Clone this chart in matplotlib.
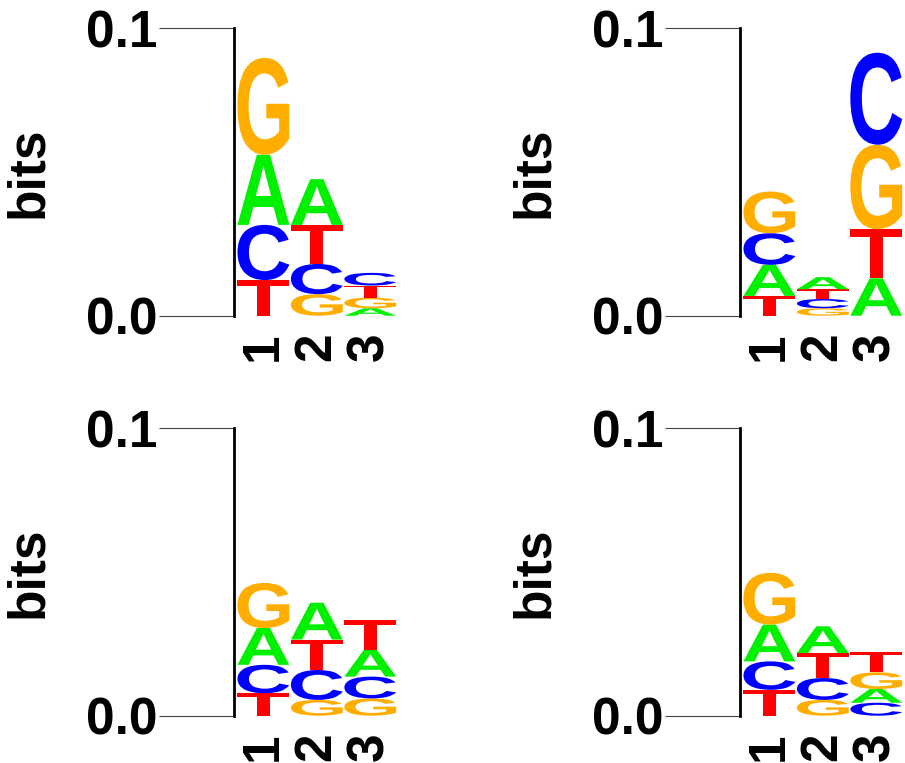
import matplotlib
matplotlib.use('Agg')
import matplotlib.pyplot as plt
from matplotlib.textpath import TextPath
from matplotlib.patches import PathPatch
from matplotlib.font_manager import FontProperties
from matplotlib.transforms import Affine2D

# information content (bits) per letter, positions 1..3
positions = [1, 2, 3]

p1_A = [0.0244, 0.0159, 0.0026]
p1_C = [0.0192, 0.0105, 0.0044]
p1_G = [0.0337, 0.0075, 0.0037]
p1_T = [0.0124, 0.0136, 0.0042]

p2_A = [0.0108, 0.0042, 0.0130]
p2_C = [0.0110, 0.0032, 0.0320]
p2_G = [0.0145, 0.0026, 0.0294]
p2_T = [0.0069, 0.0034, 0.0171]

p3_A = [0.0128, 0.0128, 0.0093]
p3_C = [0.0099, 0.0104, 0.0076]
p3_G = [0.0157, 0.0055, 0.0060]
p3_T = [0.0078, 0.0106, 0.0105]

p4_A = [0.0128, 0.0093, 0.0048]
p4_C = [0.0099, 0.0076, 0.0045]
p4_G = [0.0180, 0.0055, 0.0058]
p4_T = [0.0090, 0.0087, 0.0070]

panels = [
    {'A': p1_A, 'C': p1_C, 'G': p1_G, 'T': p1_T},
    {'A': p2_A, 'C': p2_C, 'G': p2_G, 'T': p2_T},
    {'A': p3_A, 'C': p3_C, 'G': p3_G, 'T': p3_T},
    {'A': p4_A, 'C': p4_C, 'G': p4_G, 'T': p4_T},
]

colors = {'A': '#00f000', 'C': '#0000ff', 'G': '#ffae00', 'T': '#ff0000'}
font = FontProperties(family='Liberation Sans', weight='bold')

plt.rcParams['font.family'] = ['Liberation Sans', 'DejaVu Sans']
plt.rcParams['font.weight'] = 'bold'


def draw_letter(ax, ch, x, y0, h, width=0.97):
    tp = TextPath((0, 0), ch, size=1, prop=font)
    bb = tp.get_extents()
    tr = (Affine2D().translate(-bb.x0, -bb.y0)
          .scale(width / bb.width, h / bb.height)
          .translate(x - width / 2, y0))
    ax.add_patch(PathPatch(tr.transform_path(tp), facecolor=colors[ch],
                           edgecolor='none', transform=ax.transData))


fig = plt.figure(figsize=(9.05, 7.63), dpi=100)
lefts = [234 / 905, 740 / 905]
bottoms = [447.3 / 763, 47.3 / 763]
w, h = 163 / 905, 287.4 / 763

for i, data in enumerate(panels):
    ax = fig.add_axes([lefts[i % 2], bottoms[i // 2], w, h])
    for j, pos in enumerate(positions):
        letters = sorted(data, key=lambda k: data[k][j])
        y = 0.0
        for ch in letters:
            draw_letter(ax, ch, pos, y, data[ch][j])
            y += data[ch][j]
    ax.set_xlim(0.45, 3.5)
    ax.set_ylim(0, 0.1)
    ax.set_yticks([0.0, 0.1])
    ax.set_yticklabels(['0.0', '0.1'])
    ax.set_xticks(positions)
    ax.set_xticklabels([str(p) for p in positions], rotation=90)
    for s in ['top', 'right', 'bottom']:
        ax.spines[s].set_visible(False)
    ax.spines['left'].set_linewidth(2)
    ax.spines['left'].set_color('black')
    ax.tick_params(axis='y', length=54, width=0.8, color='#444444', pad=1,
                   labelsize=37)
    ax.tick_params(axis='x', length=0, pad=12, labelsize=37)
    ax.set_ylabel('bits', fontsize=37, fontweight='bold', va='center', ha='center')
    ax.yaxis.set_label_coords(-1.26, 0.5)

plt.savefig('out.png', dpi=100)
